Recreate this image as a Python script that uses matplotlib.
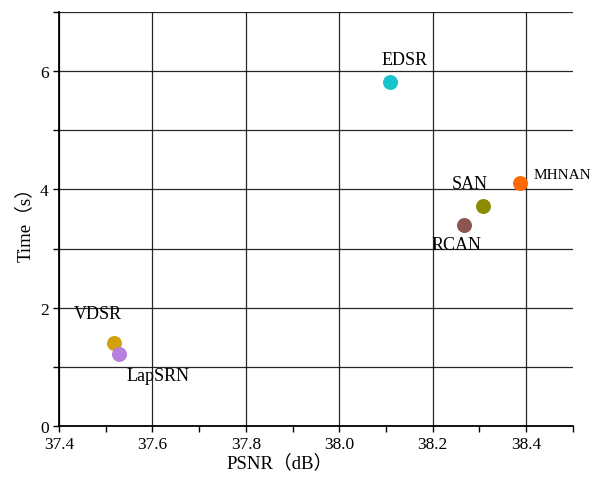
import matplotlib.pyplot as plt
from matplotlib.ticker import MultipleLocator

methods = ['VDSR', 'LapSRN', 'EDSR', 'RCAN', 'SAN', 'MHNAN']
psnr = [37.518, 37.528, 38.109, 38.267, 38.308, 38.387]
time_s = [1.40, 1.22, 5.81, 3.40, 3.72, 4.10]
colors = ['#d4a00c', '#b87ee0', '#17c3cc', '#8c5552', '#8c8c00', '#ff6a00']
label_pos = [(37.483, 1.91), (37.612, 0.86), (38.14, 6.2),
             (38.25, 3.07), (38.28, 4.1), (38.415, 4.25)]
label_ha = ['center', 'center', 'center', 'center', 'center', 'left']
label_size = [13, 13, 13, 13, 13, 11]

plt.rcParams['font.family'] = ['Liberation Serif', 'Noto Sans CJK SC']

fig = plt.figure(figsize=(5.93, 4.81), dpi=100, facecolor='white')
ax = fig.add_axes([0.0995, 0.1123, 0.8665, 0.8607])

ax.set_xlim(37.4, 38.5)
ax.set_ylim(0, 7)
ax.xaxis.set_major_locator(MultipleLocator(0.2))
ax.xaxis.set_minor_locator(MultipleLocator(0.1))
ax.yaxis.set_major_locator(MultipleLocator(2))
ax.yaxis.set_minor_locator(MultipleLocator(1))
ax.xaxis.set_major_formatter(plt.FuncFormatter(lambda v, p: '%.1f' % v))

ax.grid(True, axis='x', which='major', color='k', lw=0.9, alpha=0.85)
ax.grid(True, axis='y', which='both', color='k', lw=0.9, alpha=0.85)
ax.set_axisbelow(True)

for s in ['top', 'right']:
    ax.spines[s].set_visible(False)
ax.spines['left'].set_linewidth(1.3)
ax.spines['bottom'].set_linewidth(1.3)
ax.tick_params(which='both', direction='out', length=4, width=1, labelsize=12.5)

for m, x, y, c, (tx, ty), ha, fs in zip(methods, psnr, time_s, colors,
                                        label_pos, label_ha, label_size):
    ax.scatter(x, y, s=95, color=c, zorder=3)
    ax.text(tx, ty, m, fontsize=fs, ha=ha, va='center')

ax.set_xlabel('PSNR（dB）', fontsize=13.5)
ax.set_ylabel('Time（s）', fontsize=13.5, labelpad=4)
ax.xaxis.set_label_coords(0.43, -0.065)

plt.savefig('out.png', dpi=100)
